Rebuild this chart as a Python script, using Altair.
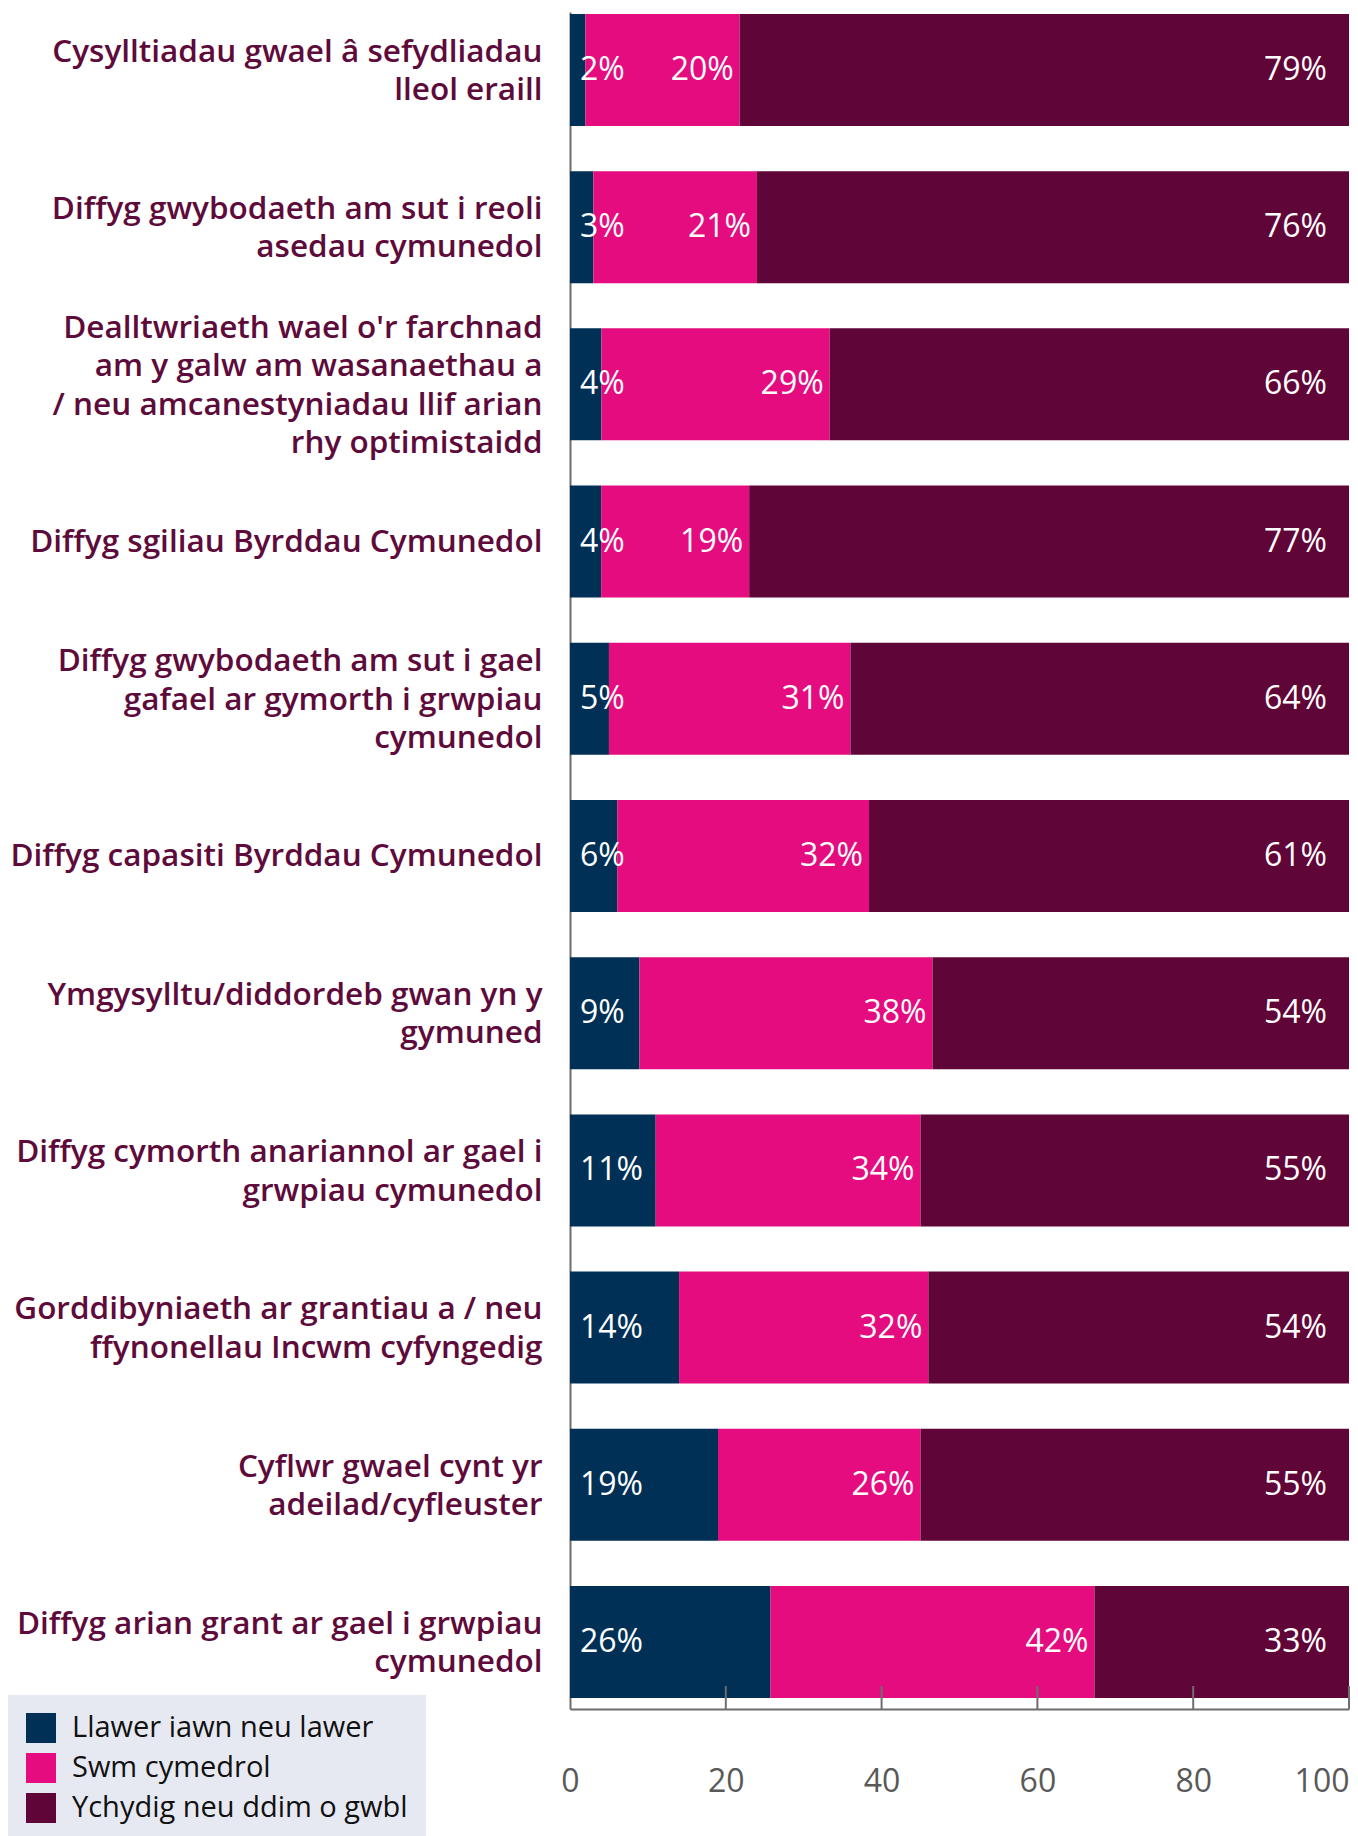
import altair as alt
import pandas as pd

categories = [
    "Cysylltiadau gwael â sefydliadau|lleol eraill",
    "Diffyg gwybodaeth am sut i reoli|asedau cymunedol",
    "Dealltwriaeth wael o'r farchnad|am y galw am wasanaethau a|/ neu amcanestyniadau llif arian|rhy optimistaidd",
    "Diffyg sgiliau Byrddau Cymunedol",
    "Diffyg gwybodaeth am sut i gael|gafael ar gymorth i grwpiau|cymunedol",
    "Diffyg capasiti Byrddau Cymunedol",
    "Ymgysylltu/diddordeb gwan yn y|gymuned",
    "Diffyg cymorth anariannol ar gael i|grwpiau cymunedol",
    "Gorddibyniaeth ar grantiau a / neu|ffynonellau Incwm cyfyngedig",
    "Cyflwr gwael cynt yr|adeilad/cyfleuster",
    "Diffyg arian grant ar gael i grwpiau|cymunedol",
]
series = ["Llawer iawn neu lawer", "Swm cymedrol", "Ychydig neu ddim o gwbl"]
v_llawer = [2, 3, 4, 4, 5, 6, 9, 11, 14, 19, 26]
v_swm = [20, 21, 29, 19, 31, 32, 38, 34, 32, 26, 42]
v_ychydig = [79, 76, 66, 77, 64, 61, 54, 55, 54, 55, 33]
colors = ["#003056", "#e40c7e", "#600537"]
tick_values = [0, 20, 40, 60, 80, 100]

rows = []
for i, c in enumerate(categories):
    for j, vals in enumerate([v_llawer, v_swm, v_ychydig]):
        rows.append({"cat": c, "series": series[j], "order": j, "value": vals[i]})
df = pd.DataFrame(rows)

FONT = "Open Sans"
W, H = 779, 1697
AXIS_GRAY = "#6d6d6d"
LH = 38.3

base = alt.Chart(df).transform_stack(
    stack="value", groupby=["cat"], as_=["x0", "x1"],
    sort=[alt.SortField("order", order="ascending")], offset="normalize"
).transform_calculate(label="datum.value + '%'")

nlines = "length(split(datum.label, '|'))"
label_offset = {
    "condition": [
        {"test": f"{nlines} == 2", "value": -LH / 2 + 2},
        {"test": f"{nlines} == 3", "value": -LH + 2},
        {"test": f"{nlines} == 4", "value": -1.5 * LH + 2},
    ],
    "value": 1,
}

yenc = alt.Y(
    "cat:N", sort=categories,
    scale=alt.Scale(paddingInner=0.2875, paddingOuter=0.041, align=0.15),
    axis=alt.Axis(
        title=None, ticks=False, domainColor=AXIS_GRAY, domainWidth=2,
        labelColor="#5e0b3b", labelFontSize=31.5, labelFontWeight=600, labelLineHeight=LH,
        labelPadding=28, labelLimit=600, labelFont=FONT,
        labelExpr="split(datum.label, '|')",
        labelOffset=label_offset,
    ),
)

bars = base.mark_bar().encode(
    x=alt.X(
        "x0:Q", scale=alt.Scale(domain=[0, 1], nice=False),
        axis=alt.Axis(
            title=None, values=[t / 100 for t in tick_values], ticks=False, grid=False,
            domainColor=AXIS_GRAY, domainWidth=2, labelColor="#595959",
            labelFontSize=32, labelPadding=57, labelFont=FONT,
            labelFlush=False,
            labelAlign=alt.condition("datum.value == 1", alt.value("right"), alt.value("center")),
            labelExpr="format(datum.value * 100, 'd')",
        ),
    ),
    x2="x1:Q",
    y=yenc,
    color=alt.Color(
        "series:N", sort=series,
        scale=alt.Scale(domain=series, range=colors),
        legend=alt.Legend(title=None, labelExpr="datum.label + '\u00a0\u00a0\u00a0\u00a0'"),
    ),
)

ticks = alt.Chart(pd.DataFrame({"x0": [t / 100 for t in tick_values[1:]]})).mark_rule(
    color=AXIS_GRAY, strokeWidth=2
).encode(x="x0:Q", y=alt.value(H - 23), y2=alt.value(H))

txt = dict(color="white", fontSize=32, font=FONT, baseline="middle")
lab0 = base.transform_filter("datum.order == 0").mark_text(align="left", dx=10, **txt).encode(
    x="x0:Q", y=alt.Y("cat:N", sort=categories), text="label:N")
lab1 = base.transform_filter("datum.order == 1").mark_text(align="right", dx=-6, **txt).encode(
    x="x1:Q", y=alt.Y("cat:N", sort=categories), text="label:N")
lab2 = base.transform_filter("datum.order == 2").mark_text(align="right", dx=-22, **txt).encode(
    x="x1:Q", y=alt.Y("cat:N", sort=categories), text="label:N")

chart = alt.layer(bars, ticks, lab0, lab1, lab2).properties(
    width=W, height=H,
    autosize=alt.AutoSizeParams(type="none"),
    padding={"left": 562, "top": 4, "right": 1, "bottom": 127},
).configure_view(stroke=None).configure_legend(
    orient="none", legendX=-562, legendY=1683, fillColor="#e7e9f2",
    padding=18, symbolType="square", symbolSize=900, symbolStrokeWidth=0,
    labelFontSize=29, labelColor="#111111", labelFont=FONT, labelOffset=16,
    labelLimit=600, rowPadding=10, cornerRadius=0,
)

chart.save("out.html", embed_options={"renderer": "svg", "actions": False})
